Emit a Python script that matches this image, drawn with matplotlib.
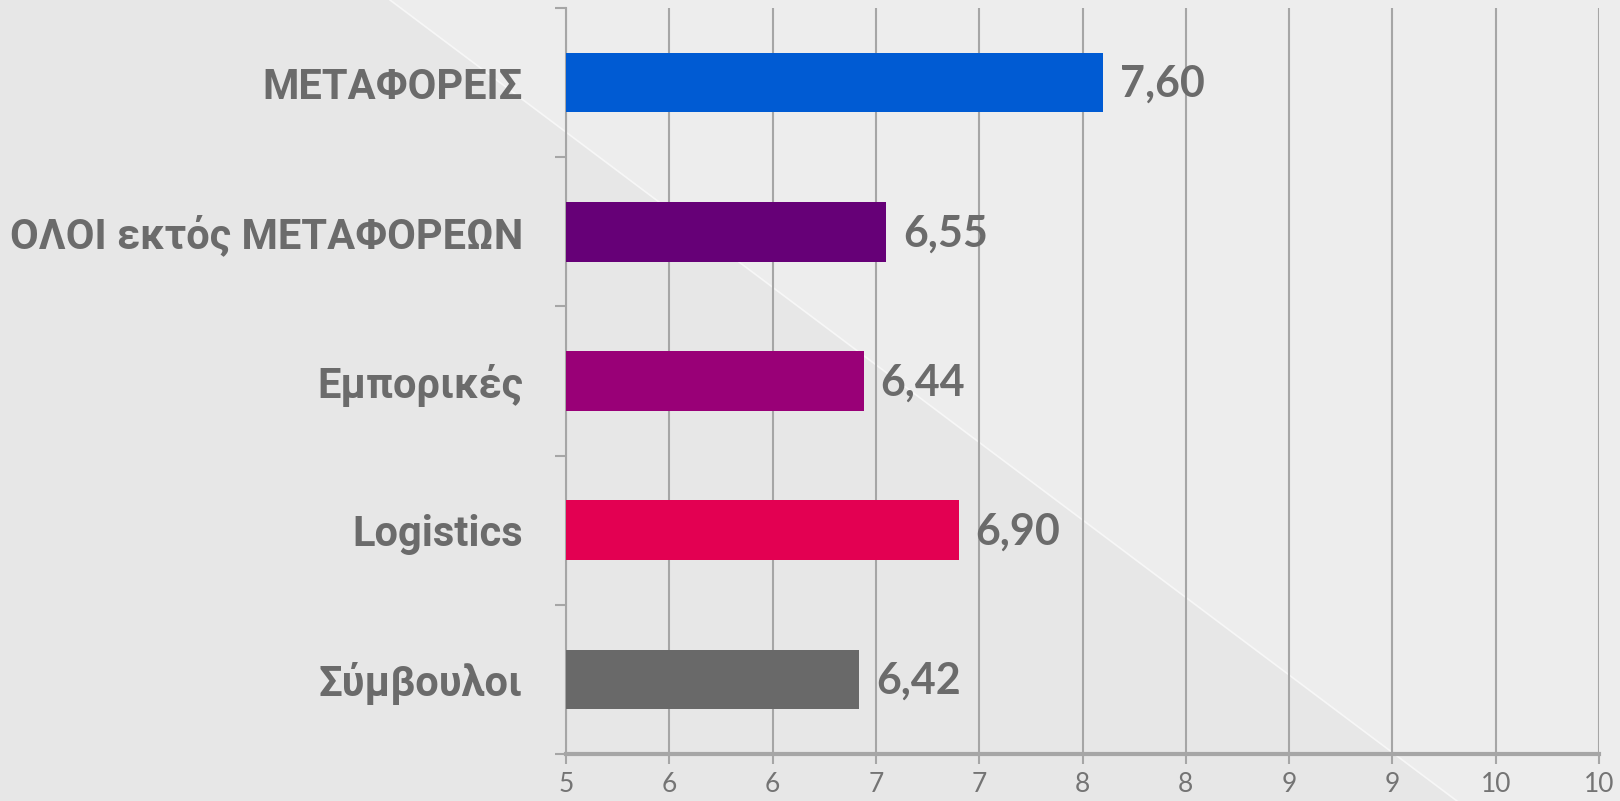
import matplotlib.pyplot as plt
from matplotlib.patches import Polygon
from matplotlib.lines import Line2D

categories = ["ΜΕΤΑΦΟΡΕΙΣ", "ΟΛΟΙ εκτός ΜΕΤΑΦΟΡΕΩΝ", "Εμπορικές", "Logistics", "Σύμβουλοι"]
values = [7.60, 6.55, 6.44, 6.90, 6.42]
bar_colors = ["#005bd3", "#660077", "#990077", "#e30052", "#696969"]
tick_values = [5, 5.5, 6, 6.5, 7, 7.5, 8, 8.5, 9, 9.5, 10]
tick_labels = ["5", "6", "6", "7", "7", "8", "8", "9", "9", "10", "10"]

W, H = 1620, 801
fig = plt.figure(figsize=(W / 100, H / 100), dpi=100)
fig.patch.set_facecolor("#e7e7e7")

# lighter triangle in the upper right, with a thin white edge
x0, x1 = 390 / W, 1457 / W
fig.patches.append(Polygon([(x0, 1), (1, 1), (1, 0), (x1, 0)], closed=True,
                           transform=fig.transFigure, facecolor="#ededed",
                           edgecolor="none", zorder=-10))
fig.lines.append(Line2D([x0, x1], [1, 0], transform=fig.transFigure,
                        color="#f7f7f7", linewidth=1.2, zorder=-9))

ax = fig.add_axes([566 / W, 1 - 754 / H, (1599 - 566) / W, (754 - 8) / H])
ax.set_facecolor("none")

ypos = list(range(len(categories)))
ax.barh(ypos, values, height=0.4, color=bar_colors, zorder=3)

ax.set_xlim(5, 10)
ax.set_ylim(len(categories) - 0.5, -0.5)

grid_color = "#a6a6a6"
for s in ["top", "right"]:
    ax.spines[s].set_visible(False)
ax.spines["left"].set_color(grid_color)
ax.spines["left"].set_linewidth(1.5)
ax.spines["bottom"].set_color(grid_color)
ax.spines["bottom"].set_linewidth(3)
ax.spines["bottom"].set_zorder(4)

ax.set_xticks(tick_values)
ax.set_xticklabels(tick_labels, fontfamily="Lato", fontweight="normal",
                   fontsize=19, color="#747474")
ax.tick_params(axis="x", direction="out", length=7, width=1.5,
               color=grid_color, pad=6)
ax.grid(axis="x", color=grid_color, linewidth=1.5, zorder=0)

ax.set_yticks(ypos)
ax.set_yticklabels(categories, fontfamily="Roboto", fontweight="bold",
                   fontsize=30, color="#6b6b6b")
ax.set_yticks([i - 0.5 for i in range(len(categories) + 1)], minor=True)
ax.tick_params(axis="y", which="major", length=0, pad=31)
ax.tick_params(axis="y", which="minor", direction="out", length=8,
               width=1.5, color=grid_color)

for y, v in zip(ypos, values):
    ax.annotate(f"{v:.2f}".replace(".", ","), xy=(v, y), xytext=(12, -1),
                textcoords="offset points", va="center", ha="left",
                fontfamily="Lato", fontweight="bold", fontsize=31,
                color="#6b6b6b", zorder=5)

fig.savefig("out.png", dpi=100, facecolor=fig.get_facecolor())
